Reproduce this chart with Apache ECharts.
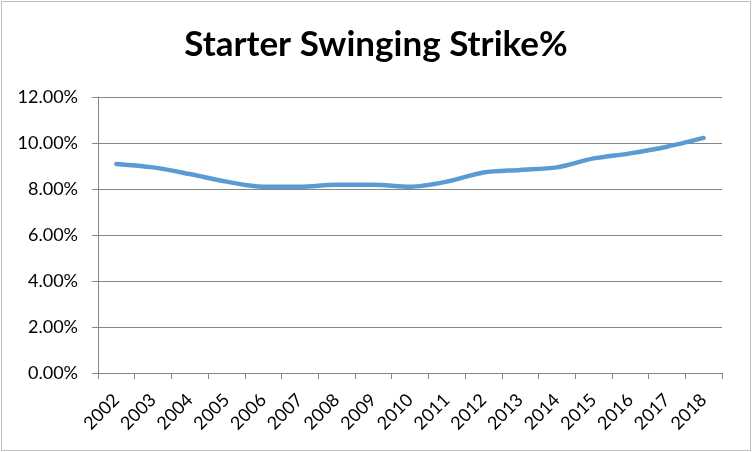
<!DOCTYPE html>
<html>
<head>
<meta charset="utf-8">
<script src="https://cdn.jsdelivr.net/npm/echarts@6/dist/echarts.min.js"></script>
<style>
  html, body { margin: 0; padding: 0; background: #fff; }
  #main { position: absolute; left: 1px; top: 1px; width: 748px; height: 448px; border: 1px solid #bfbfbf; }
</style>
</head>
<body>
<div id="main"></div>
<script>
var years = ['2002', '2003', '2004', '2005', '2006', '2007', '2008', '2009', '2010',
             '2011', '2012', '2013', '2014', '2015', '2016', '2017', '2018'];
// starter swinging strike rate, percent
var swStr = [9.09, 8.94, 8.65, 8.32, 8.1, 8.1, 8.19, 8.19, 8.1,
             8.32, 8.72, 8.83, 8.94, 9.33, 9.55, 9.84, 10.22];

var myChart = echarts.init(document.getElementById('main'));
var option = {
    animation: false,
    title: {
        text: 'Starter Swinging Strike%',
        left: 'center',
        top: 20,
        textStyle: {
            fontFamily: 'Lato',
            fontWeight: 'bold',
            fontSize: 35,
            color: '#000'
        }
    },
    grid: {
        left: 96,
        right: 28,
        top: 95,
        bottom: 77
    },
    xAxis: {
        type: 'category',
        data: years,
        boundaryGap: true,
        axisLine: { lineStyle: { color: '#868686' } },
        axisTick: { show: true, length: 6, lineStyle: { color: '#868686' } },
        axisLabel: {
            rotate: 45,
            interval: 0,
            margin: 24,
            fontFamily: 'Lato',
            fontSize: 18,
            color: '#000'
        }
    },
    yAxis: {
        type: 'value',
        min: 0,
        max: 12,
        interval: 2,
        axisLine: { show: true, lineStyle: { color: '#868686' } },
        axisTick: { show: true, length: 6, lineStyle: { color: '#868686' } },
        splitLine: { lineStyle: { color: '#868686' } },
        axisLabel: {
            margin: 20,
            fontFamily: 'Lato',
            fontSize: 18,
            color: '#000',
            formatter: function (v) { return v.toFixed(2) + '%'; }
        }
    },
    series: [{
        type: 'line',
        data: swStr,
        smooth: 0.3,
        symbol: 'none',
        lineStyle: { color: '#5b9bd5', width: 4.5, cap: 'round' }
    }]
};
myChart.setOption(option);
</script>
</body>
</html>
